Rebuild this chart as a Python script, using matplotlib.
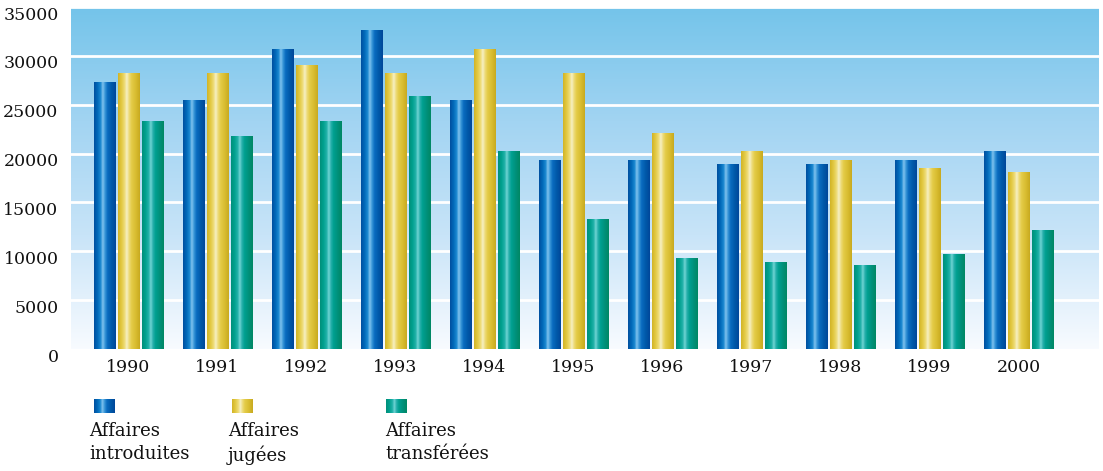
import numpy as np
import matplotlib.pyplot as plt
import matplotlib.transforms as mtransforms
from matplotlib.colors import LinearSegmentedColormap

# Données
annees = ['1990', '1991', '1992', '1993', '1994', '1995', '1996', '1997', '1998', '1999', '2000']
introduites = [27300, 25400, 30600, 32600, 25400, 19300, 19300, 18900, 18900, 19300, 20200]
jugees = [28200, 28200, 29000, 28200, 30600, 28200, 22100, 20200, 19300, 18500, 18100]
transferees = [23300, 21700, 23300, 25800, 20200, 13300, 9300, 8900, 8500, 9700, 12100]
series = ['Affaires\nintroduites', 'Affaires\njugées', 'Affaires\ntransférées']
yticks = [0, 5000, 10000, 15000, 20000, 25000, 30000, 35000]

plt.rcParams['font.family'] = ['DejaVu Serif']

# Dégradés "cylindriques" des barres
stops = [0, 0.15, 0.3, 0.4, 0.5, 0.62, 0.82, 1]
cmaps = [
    LinearSegmentedColormap.from_list('bleu', list(zip(stops, ['#0050a0', '#0068b8', '#1a88d0', '#80c2ee', '#3a98d8', '#0a6cc0', '#0058a8', '#00479a']))),
    LinearSegmentedColormap.from_list('jaune', list(zip(stops, ['#d2b428', '#e2c840', '#eedc78', '#f6f0c4', '#eedc7c', '#e4cc48', '#d8bc30', '#c8aa20']))),
    LinearSegmentedColormap.from_list('vert', list(zip(stops, ['#00907a', '#00a08e', '#20b0a8', '#70d4d4', '#28b0ac', '#00a090', '#00907a', '#008864']))),
]
grad = np.linspace(0, 1, 64).reshape(1, -1)

fig = plt.figure(figsize=(11.03, 4.71), dpi=100)
ax = fig.add_axes([71 / 1103, 1 - 349 / 471, 1028 / 1103, 342 / 471])

# Fond en dégradé
fond = LinearSegmentedColormap.from_list('fond', ['#f8fbff', '#c8e4f8', '#a2d4f2', '#74c4ea'])
ax.imshow(np.linspace(0, 1, 256).reshape(-1, 1), cmap=fond, origin='lower', aspect='auto',
          extent=[0, 1, 0, 1], transform=ax.transAxes, zorder=0)

for y in yticks[1:]:
    ax.axhline(y, color='white', lw=2, zorder=1)

x = np.arange(len(annees))
largeur = 0.236
pas = 0.27
for i, vals in enumerate([introduites, jugees, transferees]):
    barres = ax.bar(x + (i - 1) * pas, vals, width=largeur, color='none', zorder=2)
    for b in barres:
        bx, bw, bh = b.get_x(), b.get_width(), b.get_height()
        ax.imshow(grad, cmap=cmaps[i], aspect='auto', extent=[bx, bx + bw, 0, bh], zorder=3)

ax.set_xlim(-0.646, 10.904)
ax.set_ylim(0, 35000)
ax.set_xticks(x)
ax.set_xticklabels(annees)
ax.set_yticks(yticks)
ax.tick_params(length=0, labelsize=12.5, colors='#111111')
ax.tick_params(axis='x', pad=7)
ax.tick_params(axis='y', pad=9)
decal = mtransforms.ScaledTranslation(0, -6 / 100, fig.dpi_scale_trans)
for lab in ax.get_yticklabels():
    lab.set_transform(lab.get_transform() + decal)
for s in ax.spines.values():
    s.set_visible(False)

# Légende
carres = [94, 232, 386]
textes = [89, 228, 385]
for i in range(3):
    lax = fig.add_axes([carres[i] / 1103, 1 - 413 / 471, 21 / 1103, 14 / 471])
    lax.imshow(grad, cmap=cmaps[i], aspect='auto')
    lax.axis('off')
    fig.text(textes[i] / 1103, 1 - 422 / 471, series[i], ha='left', va='top',
             fontsize=13, color='#111111', linespacing=1.35)

fig.savefig('out.png', dpi=100)
